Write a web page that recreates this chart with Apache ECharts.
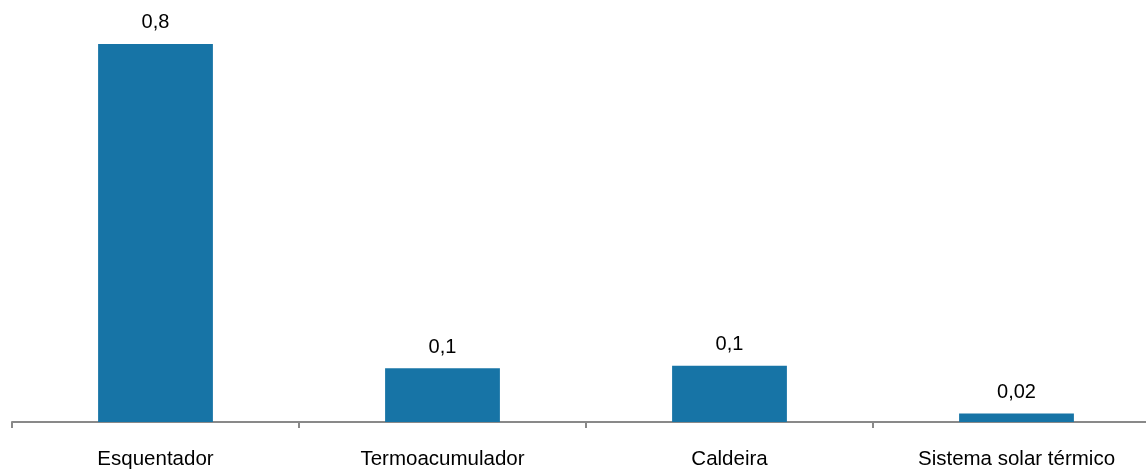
<!DOCTYPE html>
<html>
<head>
<meta charset="utf-8">
<script src="https://cdn.jsdelivr.net/npm/echarts@6/dist/echarts.min.js"></script>
<style>
html,body{margin:0;padding:0;background:#fff;}
#c{width:1146px;height:470px;}
</style>
</head>
<body>
<div id="c"></div>
<script>
const categories = ["Esquentador", "Termoacumulador", "Caldeira", "Sistema solar térmico"];
const values = [0.8, 0.114, 0.119, 0.018];
const valueLabels = ["0,8", "0,1", "0,1", "0,02"];

const chart = echarts.init(document.getElementById('c'), null, {renderer: 'canvas'});
chart.setOption({
  animation: false,
  grid: {left: 12, width: 1148, top: 0, height: 422, containLabel: false, outerBoundsMode: 'none'},
  xAxis: {
    type: 'category',
    data: categories,
    boundaryGap: true,
    axisLine: {show: true, lineStyle: {color: '#898989', width: 2}},
    axisTick: {show: true, length: 6, lineStyle: {color: '#898989', width: 2}},
    axisLabel: {color: '#000', fontSize: 20.5, fontFamily: 'Liberation Sans, Arial, sans-serif', margin: 27, interval: 0}
  },
  yAxis: {type: 'value', min: 0, max: 0.893, show: false, splitLine: {show: false}},
  series: [{
    type: 'bar',
    data: values,
    barWidth: '40%',
    itemStyle: {color: '#1774a6'},
    label: {
      show: true, position: 'top', distance: 11,
      color: '#000', fontSize: 20, fontFamily: 'Liberation Sans, Arial, sans-serif',
      formatter: p => valueLabels[p.dataIndex]
    }
  }]
});
</script>
</body>
</html>
